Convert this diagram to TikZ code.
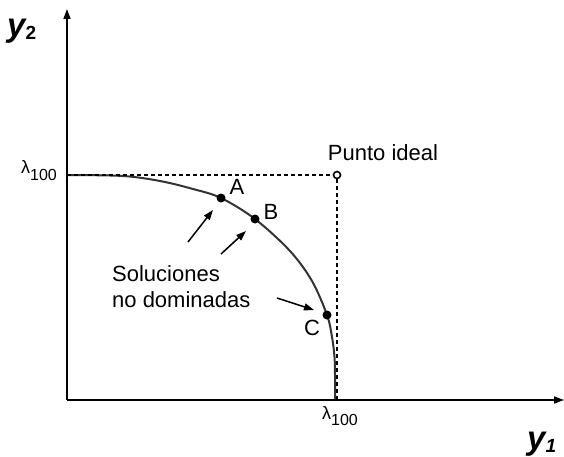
\documentclass[tikz,border=0pt]{standalone}
\usepackage{fontspec}
\setmainfont{Liberation Sans}
\usetikzlibrary{arrows.meta}
\begin{document}
\begin{tikzpicture}[x=1pt,y=-1pt,
  axis/.style={line width=1.5pt,-{Triangle[length=10pt,width=7pt]}},
  guide/.style={line width=1.5pt,dash pattern=on 4pt off 3pt},
  frontier/.style={line width=2pt,black!80},
  soldot/.style={circle,fill=black,inner sep=0pt,minimum size=9pt},
  ideal/.style={circle,draw=black,line width=1.6pt,fill=white,inner sep=0pt,minimum size=7pt},
  pointer/.style={line width=1.5pt,-{Triangle[length=10pt,width=7pt]}},
  lbl/.style={font=\fontsize{22}{26}\selectfont,inner sep=0pt},
  lam/.style={font=\fontsize{18}{20}\selectfont,inner sep=0pt}]
\useasboundingbox (0,0) rectangle (564,457);
\coordinate (O) at (67,400);
\coordinate (Ytop) at (67,9);
\coordinate (Xend) at (564,400);
\coordinate (Ly) at (67,175);
\coordinate (Lx) at (337,400);
\node[ideal] (P) at (337,175) {};
% frontier
\draw[frontier] plot[smooth,tension=0.55] coordinates {(67,175) (123,176) (160,181) (193,189) (221,198) (255,219) (290,251) (312,281) (327,315) (332,337) (334.5,357) (335,375) (335,400)};
% guides
\draw[guide] (Ly) -- (P.west);
\draw[guide] (P.south) -- (Lx);
% axes
\draw[axis] (O) -- (Ytop);
\draw[axis] (O) -- (Xend);
% solutions
\node[soldot] (A) at (221,198) {};
\node[soldot] (B) at (255,219) {};
\node[soldot] (C) at (327,315) {};
\node[lbl] at (237,187) {A};
\node[lbl] at (271,212) {B};
\node[lbl] at (312,328) {C};
\node[lbl,anchor=south] at (383,161) {Punto ideal};
\node[lbl,anchor=west,align=left] (S) at (112,287) {Soluciones\\no dominadas};
% pointers
\coordinate (a1s) at (188,242);
\coordinate (a1e) at (213,210);
\coordinate (a2s) at (221,254);
\coordinate (a2e) at (246,231);
\coordinate (a3s) at (277,298);
\coordinate (a3e) at (314,310);
\draw[pointer] (a1s) -- (a1e);
\draw[pointer] (a2s) -- (a2e);
\draw[pointer] (a3s) -- (a3e);
% axis labels
\node[lam,anchor=base west] at (21,173) {λ\raisebox{-7pt}{\fontsize{16}{18}\selectfont 100}};
\node[lam,anchor=base west] at (322,419) {λ\raisebox{-6pt}{\fontsize{16}{18}\selectfont 100}};
\node[inner sep=0pt,anchor=base west] at (7,37) {\fontsize{33}{36}\selectfont\bfseries\itshape y\raisebox{-3pt}{\fontsize{19}{20}\selectfont\bfseries\upshape 2}};
\node[inner sep=0pt,anchor=base west] at (527,449) {\fontsize{33}{36}\selectfont\bfseries\itshape y\raisebox{-3pt}{\fontsize{19}{20}\selectfont\bfseries\itshape 1}};
\end{tikzpicture}
\end{document}
